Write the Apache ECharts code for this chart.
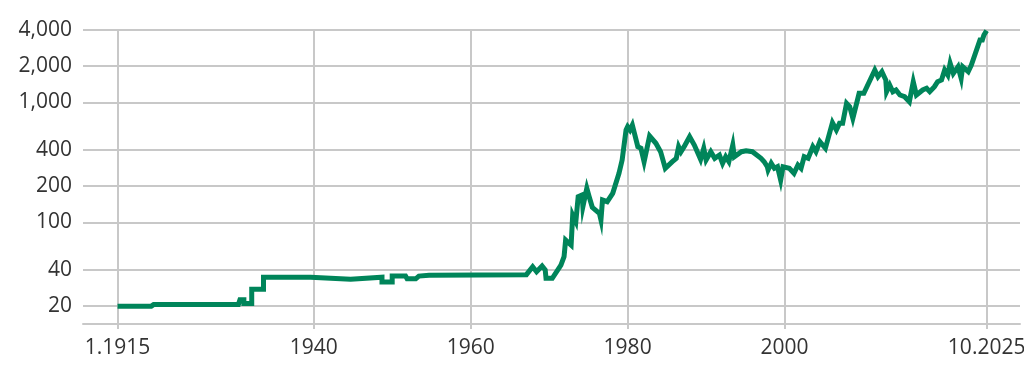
<!DOCTYPE html>
<html>
<head>
<meta charset="utf-8">
<script src="https://cdn.jsdelivr.net/npm/echarts@6/dist/echarts.min.js"></script>
<style>
html,body{margin:0;padding:0;background:#fff;}
#chart{width:1024px;height:382px;}
</style>
</head>
<body>
<div id="chart"></div>
<script>
// Time in decimal years
var years = [1915.0, 1919.3, 1919.6, 1930.4, 1930.6, 1931.1, 1931.1, 1932.1, 1932.1, 1933.6,
  1933.6, 1939.6, 1939.6, 1944.7, 1944.7, 1948.7, 1948.7, 1950.0, 1950.0, 1951.7,
  1951.9, 1953.0, 1953.4, 1954.7, 1967.1, 1967.9, 1968.4, 1969.1, 1969.5, 1969.6,
  1970.4, 1971.5, 1971.9, 1972.1, 1972.8, 1973.0, 1973.4, 1973.7, 1974.2, 1974.3,
  1974.8, 1975.1, 1975.5, 1976.4, 1976.6, 1976.8, 1977.4, 1978.1, 1978.9, 1979.3,
  1979.8, 1980.0, 1980.3, 1980.6, 1981.3, 1981.7, 1982.1, 1982.3, 1982.8, 1983.6,
  1984.2, 1984.8, 1985.7, 1986.2, 1986.5, 1986.8, 1987.2, 1987.9, 1988.5, 1989.3,
  1989.7, 1990.0, 1990.6, 1991.1, 1991.7, 1992.1, 1992.5, 1992.9, 1993.4, 1993.6,
  1994.5, 1995.1, 1995.9, 1997.0, 1997.4, 1997.8, 1997.9, 1998.3, 1998.7, 1999.1,
  1999.5, 1999.8, 2000.6, 2001.2, 2001.7, 2002.1, 2002.5, 2003.0, 2003.6, 2004.0,
  2004.5, 2005.2, 2006.1, 2006.6, 2007.0, 2007.4, 2007.9, 2008.3, 2008.7, 2009.5,
  2010.1, 2011.5, 2011.9, 2012.4, 2012.9, 2013.0, 2013.4, 2013.8, 2014.2, 2014.7,
  2015.3, 2015.9, 2016.4, 2016.8, 2017.6, 2018.1, 2018.5, 2019.1, 2019.5, 2020.0,
  2020.4, 2020.8, 2021.1, 2021.5, 2022.1, 2022.5, 2022.7, 2023.4, 2023.8, 2024.9,
  2025.2, 2025.4, 2025.75];

// Price (log scale on the chart)
var prices = [20.0, 20.0, 20.6, 20.6, 22.6, 22.6, 21.0, 21.0, 27.6, 27.6,
  34.8, 34.8, 33.5, 33.5, 34.8, 34.8, 31.8, 31.8, 35.6, 35.6,
  33.8, 33.8, 35.6, 36.1, 36.6, 42.6, 38.7, 43.2, 40.0, 34.1,
  34.1, 44.0, 51.6, 71.1, 64.6, 114.9, 101.1, 163.3, 168.7, 134.8,
  191.9, 163.3, 133.2, 118.8, 104.4, 153.2, 148.3, 174.2, 255.9, 330.2,
  587.2, 625.6, 587.2, 646.3, 426.2, 413.2, 319.6, 319.6, 523.3, 454.9,
  387.3, 281.6, 319.6, 341.2, 426.2, 387.3, 426.2, 516.4, 440.3, 334.6,
  413.2, 330.2, 387.3, 341.2, 363.4, 309.9, 351.8, 319.6, 440.3, 351.8,
  387.3, 394.8, 387.3, 341.2, 319.6, 290.3, 272.5, 309.9, 281.6, 290.3,
  224.9, 290.3, 281.6, 255.9, 299.9, 281.6, 351.8, 341.2, 426.2, 387.3,
  469.2, 413.2, 675.4, 587.2, 667.6, 667.6, 979.9, 918.2, 734.9, 1187.4,
  1187.4, 1856.5, 1632.6, 1797, 1532, 1224.6, 1392, 1224.6, 1264.9, 1149,
  1112, 1010.6, 1483, 1149, 1264.9, 1307, 1224.6, 1348, 1483, 1532,
  1856, 1686, 2111, 1742, 1978, 1583, 1978, 1797, 2043, 3302,
  3302, 3634, 3950];

var xTicks = [1915, 1940, 1960, 1980, 2000, 2025.75];
var xTickLabels = ['1.1915', '1940', '1960', '1980', '2000', '10.2025'];
var yTicks = [20, 40, 100, 200, 400, 1000, 2000, 4000];
var yTickLabels = ['20', '40', '100', '200', '400', '1,000', '2,000', '4,000'];

var data = years.map(function (y, i) { return [y, prices[i]]; });

var gridColor = '#c8c8c8';
var textStyle = { color: '#333333', fontFamily: 'Open Sans', fontSize: 21 };

var chart = echarts.init(document.getElementById('chart'), null, { renderer: 'canvas' });
chart.setOption({
  animation: false,
  grid: { left: 83, right: 4, top: 30, bottom: 58, containLabel: false, outerBoundsMode: 'none' },
  xAxis: {
    type: 'value',
    min: 1910.6,
    max: 2030,
    axisLine: { show: true, lineStyle: { color: gridColor, width: 2 } },
    axisTick: { show: true, customValues: xTicks, length: 5, lineStyle: { color: gridColor, width: 2 } },
    axisLabel: Object.assign({
      customValues: xTicks,
      margin: 14,
      formatter: function (v) {
        var i = xTicks.indexOf(v);
        return i >= 0 ? xTickLabels[i] : '';
      }
    }, textStyle),
    splitLine: { show: true, lineStyle: { color: gridColor, width: 2 } }
  },
  yAxis: {
    type: 'log',
    logBase: 10,
    min: 14.2,
    max: 4000,
    axisLine: { show: false },
    axisTick: { show: false, customValues: yTicks },
    axisLabel: Object.assign({
      customValues: yTicks,
      margin: 11,
      formatter: function (v) {
        var i = yTicks.indexOf(Math.round(v));
        return i >= 0 ? yTickLabels[i] : '';
      }
    }, textStyle),
    splitLine: { show: true, lineStyle: { color: gridColor, width: 2 } }
  },
  series: [{
    type: 'line',
    data: data,
    showSymbol: false,
    symbol: 'none',
    lineStyle: { color: '#00855a', width: 5, join: 'miter' },
    emphasis: { disabled: true }
  }]
});
</script>
</body>
</html>
